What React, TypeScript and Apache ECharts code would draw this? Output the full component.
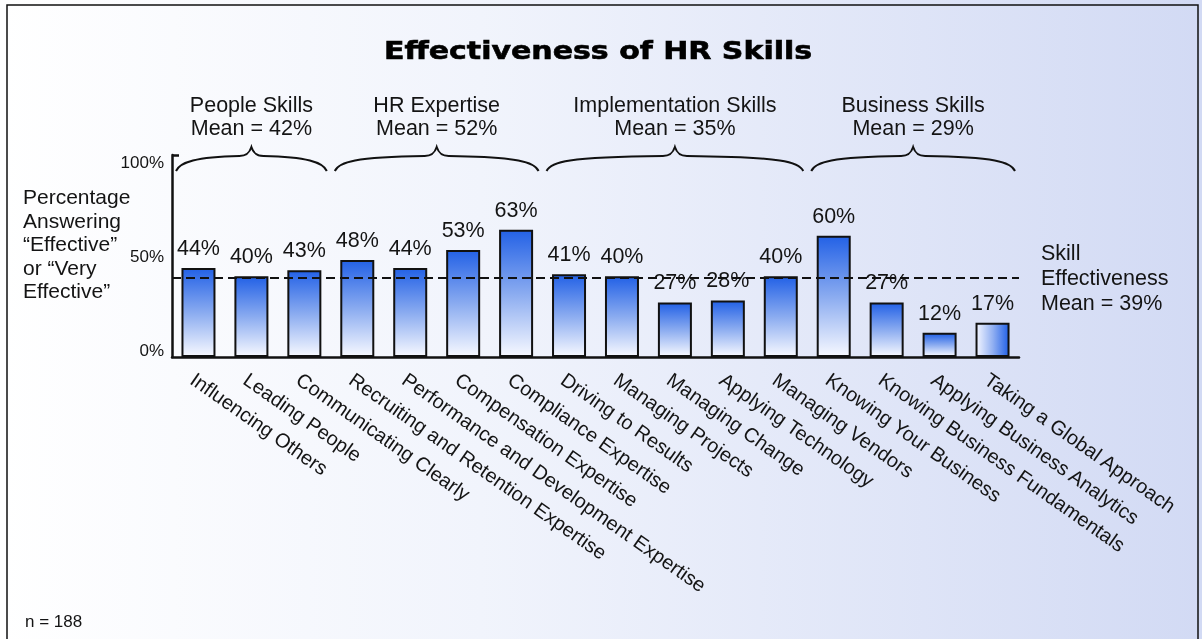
import React, { useEffect, useRef } from "react";
import * as echarts from "echarts";

const categories = [
  "Influencing Others",
  "Leading People",
  "Communicating Clearly",
  "Recruiting and Retention Expertise",
  "Performance and Development Expertise",
  "Compensation Expertise",
  "Compliance Expertise",
  "Driving to Results",
  "Managing Projects",
  "Managing Change",
  "Applying Technology",
  "Managing Vendors",
  "Knowing Your Business",
  "Knowing Business Fundamentals",
  "Applying Business Analytics",
  "Taking a Global Approach",
];
const values = [44, 40, 43, 48, 44, 53, 63, 41, 40, 27, 28, 40, 60, 27, 12, 17];

const groupNames = ["People Skills", "HR Expertise", "Implementation Skills", "Business Skills"];
const groupStart = [0, 3, 7, 12];
const groupEnd = [2, 6, 11, 15];
const groupMeans = [42, 52, 35, 29];

const overallMean = 39;
const yTicks = [0, 50, 100];

const FONT = "'Liberation Sans', Arial, Helvetica, sans-serif";
const TXT = "#141414";

const barGradient = {
  type: "linear",
  x: 0, y: 0, x2: 0, y2: 1,
  colorStops: [
    { offset: 0, color: "#2462e6" },
    { offset: 0.5, color: "#8aabf0" },
    { offset: 1, color: "#f6f8ff" },
  ],
};
const barGradientH = {
  type: "linear",
  x: 0, y: 0, x2: 1, y2: 0,
  colorStops: [
    { offset: 0, color: "#f2f5ff" },
    { offset: 0.5, color: "#93b1f2" },
    { offset: 1, color: "#2462e6" },
  ],
};

function bracePath(xL: number, xR: number, yT: number, yM: number, yE: number) {
  const xm = (xL + xR) / 2;
  return (
    `M${xL},${yE} C${xL + 4},${yM + 6} ${xL + 20},${yM + 1} ${xm - 12},${yM} ` +
    `C${xm - 5},${yM} ${xm - 2},${yM - 3} ${xm},${yT} ` +
    `C${xm + 2},${yM - 3} ${xm + 5},${yM} ${xm + 12},${yM} ` +
    `C${xR - 20},${yM + 1} ${xR - 4},${yM + 6} ${xR},${yE}`
  );
}

export default function App() {
  const ref = useRef<HTMLDivElement>(null);

  useEffect(() => {
    if (!ref.current) return;
    const chart = echarts.init(ref.current, null, { renderer: "svg" });

    const barData = values.map((v, i) =>
      i === values.length - 1 ? { value: v, itemStyle: { color: barGradientH } } : v
    );
    const groupData = groupNames.map((_, i) => [groupStart[i], groupEnd[i], groupMeans[i]]);

    const option: any = {
      animation: false,
      textStyle: { fontFamily: FONT },
      graphic: [
        {
          type: "rect",
          z: -100,
          silent: true,
          shape: { x: 0, y: 0, width: 1202, height: 639 },
          style: {
            fill: {
              type: "linear",
              x: 0, y: 0, x2: 1, y2: 0,
              colorStops: [
                { offset: 0, color: "#ffffff" },
                { offset: 0.4, color: "#f1f4fc" },
                { offset: 1, color: "#d2daf4" },
              ],
            },
          },
        },
        {
          type: "rect",
          z: -90,
          silent: true,
          shape: { x: 7, y: 5, width: 1191, height: 645 },
          style: { fill: "none", stroke: "#111", lineWidth: 1.5 },
        },
        {
          type: "text",
          x: 598,
          y: 51,
          scaleX: 1.25,
          style: {
            text: "Effectiveness of HR Skills",
            x: 0,
            y: 0,
            align: "center",
            verticalAlign: "middle",
            fontFamily: "'DejaVu Sans', sans-serif",
            fontWeight: "bold",
            fontSize: 24,
            fill: "#000",
            stroke: "#000",
            lineWidth: 0.6,
          },
        },
        {
          type: "text",
          x: 23,
          y: 185,
          style: {
            text: "Percentage\nAnswering\n\u201CEffective\u201D\nor \u201CVery\nEffective\u201D",
            align: "left",
            verticalAlign: "top",
            fontFamily: FONT,
            fontSize: 21,
            lineHeight: 23.5,
            fill: TXT,
          },
        },
        {
          type: "text",
          x: 25,
          y: 621,
          style: {
            text: "n = 188",
            align: "left",
            verticalAlign: "middle",
            fontFamily: FONT,
            fontSize: 17,
            fill: TXT,
          },
        },
      ],
      grid: {
        left: 172,
        right: 183,
        top: 155,
        bottom: 282,
        containLabel: false,
        outerBoundsMode: "none",
      },
      xAxis: {
        type: "category",
        data: categories,
        axisLine: { show: true, lineStyle: { color: "#111", width: 2.5 } },
        axisTick: { show: false },
        splitLine: { show: false },
        axisLabel: {
          interval: 0,
          rotate: -35,
          align: "left",
          verticalAlign: "top",
          margin: 12,
          fontSize: 20,
          color: TXT,
          fontFamily: FONT,
        },
      },
      yAxis: {
        type: "value",
        min: 0,
        max: 100,
        interval: 50,
        splitLine: { show: false },
        axisLine: { show: true, lineStyle: { color: "#111", width: 2.5 } },
        axisTick: {
          show: true,
          inside: true,
          length: 7,
          customValues: [100],
          lineStyle: { color: "#111", width: 2.5 },
        },
        axisLabel: {
          customValues: yTicks,
          margin: 8,
          fontSize: 17,
          color: TXT,
          fontFamily: FONT,
          formatter: (v: number) =>
            v === 100 ? `{t|${v}%}` : v === 0 ? `{b|${v}%}` : `{m|${v}%}`,
          rich: {
            t: { fontSize: 17, color: TXT, padding: [14, 0, 0, 0] },
            b: { fontSize: 17, color: TXT, padding: [0, 0, 14, 0] },
            m: { fontSize: 17, color: TXT },
          },
        },
      },
      series: [
        {
          type: "bar",
          data: barData,
          barWidth: 34,
          itemStyle: { color: barGradient, borderColor: "#111", borderWidth: 2 },
          label: {
            show: true,
            position: "top",
            distance: 9,
            formatter: "{c}%",
            fontSize: 21.5,
            color: TXT,
            fontFamily: FONT,
          },
          markLine: {
            silent: true,
            symbol: "none",
            lineStyle: { type: [9, 5], color: "#111", width: 2 },
            label: {
              show: true,
              position: "end",
              distance: 22,
              formatter: `Skill\nEffectiveness\nMean = ${overallMean}%`,
              fontSize: 21.5,
              lineHeight: 25,
              color: TXT,
              fontFamily: FONT,
              align: "left",
            },
            data: [{ yAxis: overallMean }],
          },
        },
        {
          type: "custom",
          silent: true,
          clip: false,
          z: 3,
          data: groupData,
          encode: { x: 0, y: 2 },
          renderItem: (params: any, api: any) => {
            const s = api.value(0);
            const e = api.value(1);
            const m = api.value(2);
            const band = api.size([1, 0])[0];
            const p0 = api.coord([s, 100]);
            const p1 = api.coord([e, 100]);
            const xL = p0[0] - band / 2 + 4;
            const xR = p1[0] + band / 2 - 4;
            const y100 = p0[1];
            const xm = (xL + xR) / 2;
            return {
              type: "group",
              children: [
                {
                  type: "path",
                  shape: { pathData: bracePath(xL, xR, y100 - 8, y100 + 1, y100 + 16) },
                  style: { fill: "none", stroke: "#111", lineWidth: 2 },
                },
                {
                  type: "text",
                  style: {
                    text: `${groupNames[params.dataIndex]}\nMean = ${m}%`,
                    x: xm,
                    y: y100 - 38.5,
                    align: "center",
                    verticalAlign: "middle",
                    fontSize: 21.5,
                    lineHeight: 23,
                    fill: TXT,
                    fontFamily: FONT,
                  },
                },
              ],
            };
          },
        },
      ],
    };

    chart.setOption(option);
    return () => chart.dispose();
  }, []);

  return (
    <div
      ref={ref}
      style={{ position: "fixed", left: 0, top: 0, width: 1202, height: 639 }}
    />
  );
}
